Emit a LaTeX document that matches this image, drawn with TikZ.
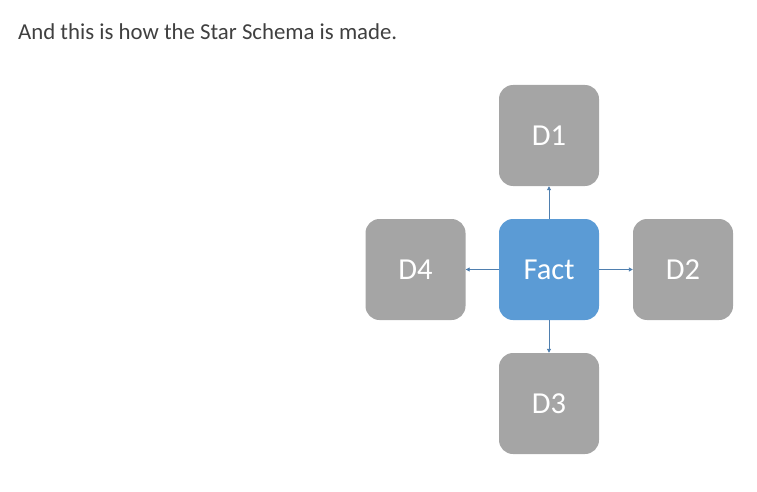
\documentclass[tikz,border=0pt]{standalone}
\usepackage{fontspec}
\setmainfont{Carlito}
\usetikzlibrary{arrows.meta}
\definecolor{boxgray}{HTML}{A5A5A5}
\definecolor{factblue}{HTML}{5B9BD5}
\definecolor{arrowblue}{HTML}{4F7FAF}
\definecolor{titlegray}{HTML}{404040}
\begin{document}
\begin{tikzpicture}[x=1pt,y=-1pt,
  dbox/.style={rectangle, rounded corners=14pt, minimum width=100pt, minimum height=101pt, fill=boxgray, text=white, font=\fontsize{30.5}{34}\selectfont, inner sep=0pt},
  fbox/.style={dbox, fill=factblue},
  link/.style={draw=arrowblue, line width=0.9pt, -{Triangle[length=4pt,width=4pt]}}]
\useasboundingbox (0,0) rectangle (757,492);
\node[anchor=base west, text=titlegray, font=\fontsize{22.8}{26}\selectfont, inner sep=0pt] (title) at (18,40) {And this is how the Star Schema is made.};
\node[fbox] (fact) at (549,269.5) {Fact};
\node[dbox] (d1) at (549,135.5) {D1};
\node[dbox] (d2) at (683,269.5) {D2};
\node[dbox] (d3) at (549,403.5) {D3};
\node[dbox] (d4) at (415.5,269.5) {D4};
\draw[link] (fact) -- (d1);
\draw[link] (fact) -- (d2);
\draw[link] (fact) -- (d3);
\draw[link] (fact) -- (d4);
\end{tikzpicture}
\end{document}
